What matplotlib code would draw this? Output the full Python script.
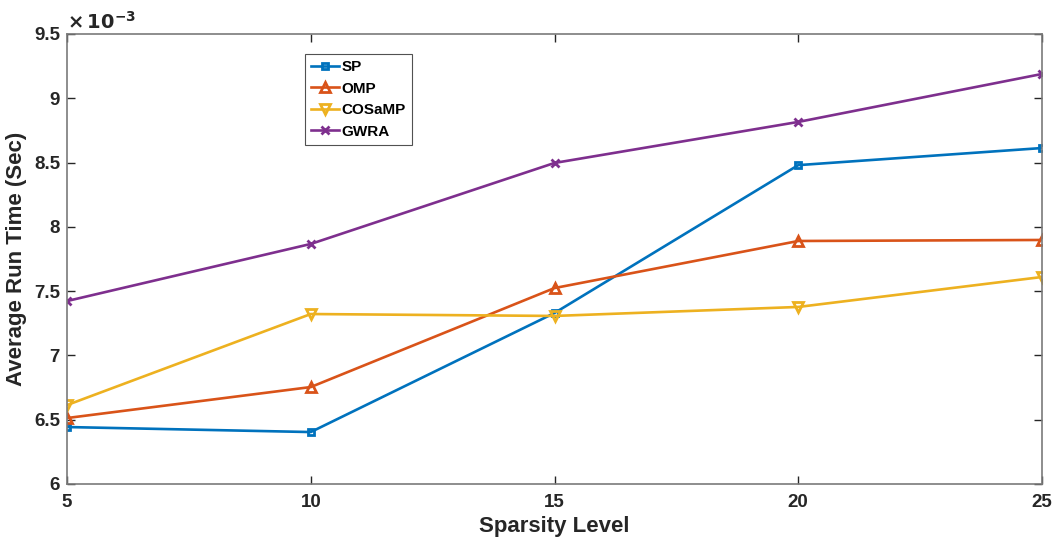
import numpy as np
import matplotlib
matplotlib.use('Agg')
import matplotlib.pyplot as plt
from matplotlib.ticker import FormatStrFormatter

plt.rcParams['font.family'] = ['Liberation Sans', 'DejaVu Sans']
plt.rcParams['font.weight'] = 'bold'

# run times in units of 1e-3 s
sparsity = [5, 10, 15, 20, 25]
sp_time = [6.443, 6.404, 7.330, 8.480, 8.613]
omp_time = [6.513, 6.754, 7.524, 7.890, 7.898]
cosamp_time = [6.614, 7.322, 7.307, 7.377, 7.610]
gwra_time = [7.423, 7.867, 8.497, 8.816, 9.189]

names = ['SP', 'OMP', 'COSaMP', 'GWRA']
colors = ['#0072BD', '#D95319', '#EDB120', '#7E2F8E']
markers = ['s', '^', 'v', 'x']
msizes = [5, 7.5, 7.5, 5.5]

fig = plt.figure(figsize=(10.64, 5.37), dpi=100)
ax = fig.add_axes([0.063, 0.0987, 0.9163, 0.838])

for vals, name, c, m, ms in zip([sp_time, omp_time, cosamp_time, gwra_time], names, colors, markers, msizes):
    ax.plot(sparsity, vals, color=c, marker=m, markersize=ms, lw=1.9,
            markerfacecolor='none', markeredgewidth=2.0, label=name)

ax.set_xlim(5, 25)
ax.set_ylim(6, 9.5)
ax.set_xticks(sparsity)
ax.set_yticks(np.arange(6, 9.51, 0.5))
ax.yaxis.set_major_formatter(FormatStrFormatter('%g'))
ax.tick_params(direction='in', length=6, width=1, colors='#262626', labelsize=13.5, pad=7,
               top=True, right=True)
ax.tick_params(axis='y', pad=5)
for s in ax.spines.values():
    s.set_color('#7a7a7a')
    s.set_linewidth(1.2)

ax.set_xlabel('Sparsity Level', fontsize=16, fontweight='bold', color='#262626', labelpad=4)
ax.set_ylabel('Average Run Time (Sec)', fontsize=16, fontweight='bold', color='#262626', labelpad=5)
ax.text(0.0, 1.003, r'$\times\,10^{-3}$', transform=ax.transAxes, fontsize=14,
        color='#262626', ha='left', va='bottom')

leg = ax.legend(loc='upper left', bbox_to_anchor=(0.244, 0.956), borderaxespad=0, fontsize=11,
                frameon=True, fancybox=False, handlelength=1.8, handletextpad=0.2,
                labelspacing=0.5, borderpad=0.4)
leg.get_frame().set_edgecolor('#262626')
leg.get_frame().set_linewidth(0.8)
for t in leg.get_texts():
    t.set_fontweight('bold')

fig.savefig('out.png', dpi=100)
